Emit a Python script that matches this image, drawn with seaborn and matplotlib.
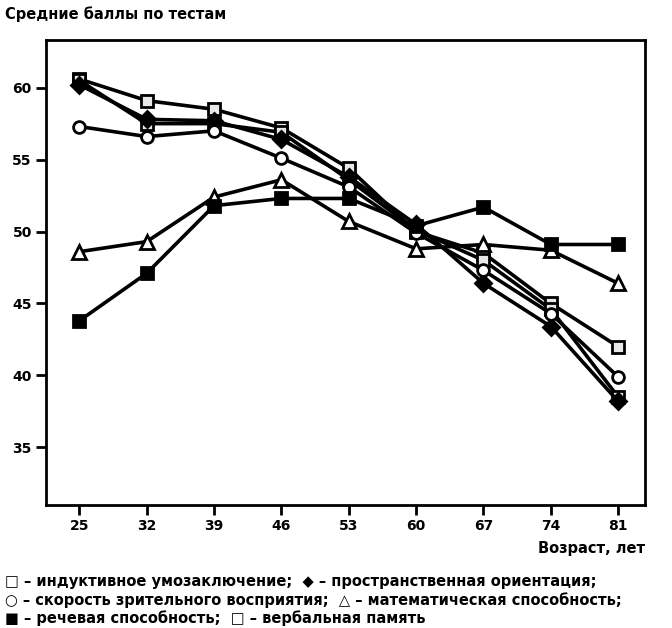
import pandas as pd
import matplotlib.pyplot as plt
import seaborn as sns

# --------------
# Data
# --------------
ages = [25, 32, 39, 46, 53, 60, 67, 74, 81]
inductive = [60.6, 59.1, 58.5, 57.2, 54.4, 50.0, 48.5, 45.0, 42.0]
spatial = [60.2, 57.8, 57.7, 56.4, 53.8, 50.5, 46.4, 43.4, 38.2]
perception = [57.3, 56.6, 57.0, 55.1, 53.1, 49.9, 47.3, 44.3, 39.9]
numeric = [48.6, 49.3, 52.4, 53.6, 50.7, 48.8, 49.1, 48.7, 46.4]
verbal = [43.8, 47.1, 51.8, 52.3, 52.3, 50.4, 51.7, 49.1, 49.1]
memory = [60.5, 57.5, 57.5, 56.9, 53.6, 50.1, 48.0, 44.6, 38.5]
yticks = [35, 40, 45, 50, 55, 60]

series = {'inductive': inductive, 'memory': memory, 'spatial': spatial,
          'perception': perception, 'numeric': numeric, 'verbal': verbal}
df = pd.DataFrame([(k, a, v) for k, vals in series.items() for a, v in zip(ages, vals)],
                  columns=['test', 'age', 'score'])

# marker style per series: (marker, face colour, size)
styles = {'inductive': ('s', '#e8e8e8', 8.5),
          'memory': ('s', '#e8e8e8', 8.5),
          'spatial': ('D', 'black', 8.5),
          'perception': ('o', 'white', 8.5),
          'numeric': ('^', 'white', 9.5),
          'verbal': ('s', 'black', 8.5)}

sns.set_style('white')
plt.rcParams['font.family'] = ['DejaVu Sans']
plt.rcParams['font.weight'] = 'bold'
plt.rcParams['text.color'] = 'black'
plt.rcParams['xtick.color'] = 'black'
plt.rcParams['ytick.color'] = 'black'

fig = plt.figure(figsize=(6.72, 6.28), dpi=100)
ax = fig.add_axes([0.068, 0.196, 0.892, 0.74])

for name in series:
    m, fc, ms = styles[name]
    sns.lineplot(data=df[df['test'] == name], x='age', y='score', ax=ax,
                 color='black', linewidth=2.6, marker=m, markersize=ms,
                 markerfacecolor=fc, markeredgecolor='black', markeredgewidth=2)

ax.set_xlim(21.5, 83.8)
ax.set_ylim(31.0, 63.3)
ax.set_xticks(ages)
ax.set_yticks(yticks)
ax.tick_params(direction='out', length=7, width=2, labelsize=10, pad=3,
               bottom=True, left=True, colors='black')
for lbl in ax.get_xticklabels() + ax.get_yticklabels():
    lbl.set_fontweight('bold')
for sp in ax.spines.values():
    sp.set_linewidth(2)
    sp.set_color('black')
ax.set_xlabel('')
ax.set_ylabel('')

fig.text(0.008, 0.978, 'Средние баллы по тестам', fontsize=10.5, fontweight='bold',
         ha='left', va='center')
fig.text(0.96, 0.127, 'Возраст, лет', fontsize=10.5, fontweight='bold',
         ha='right', va='center')

legend_lines = ['□ – индуктивное умозаключение;  ◆ – пространственная ориентация;',
                '○ – скорость зрительного восприятия;  △ – математическая способность;',
                '■ – речевая способность;  □ – вербальная память']
for i, t in enumerate(legend_lines):
    fig.text(0.008, 0.074 - i * 0.0295, t, fontsize=10.5, fontweight='bold',
             ha='left', va='center')

plt.savefig('out.png', dpi=100)
plt.close()
